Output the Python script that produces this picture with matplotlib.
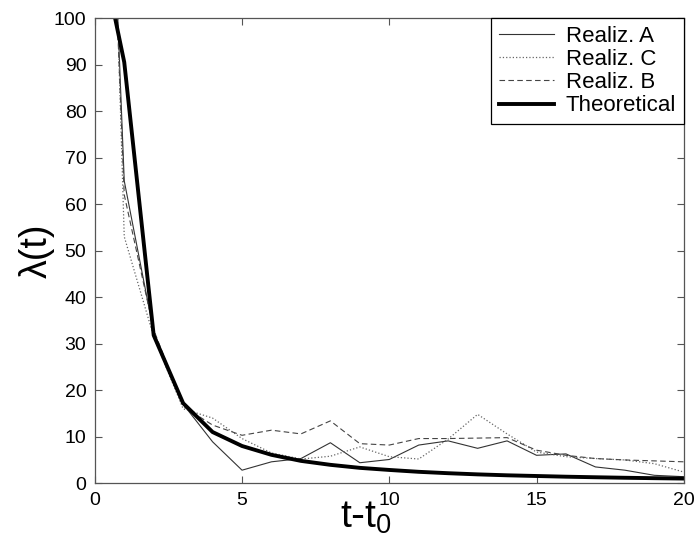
import matplotlib
matplotlib.use("Agg")
import matplotlib.pyplot as plt

plt.rcParams["font.family"] = ["Liberation Sans", "DejaVu Sans"]

# readings (t - t0 on x, lambda(t) on y)
t = [0, 1, 2, 3, 4, 5, 6, 7, 8, 9, 10, 11, 12, 13, 14, 15, 16, 17, 18, 19, 20]
realiz_a = [225, 65, 32.5, 17, 8.9, 2.8, 4.6, 5.3, 8.7, 4.4, 5.1, 8.2, 9.1, 7.5, 9.1, 6.0, 6.3, 3.5, 2.8, 1.7, 1.4]
realiz_c = [265, 53, 31.5, 16, 14, 9.6, 6.5, 5.2, 5.8, 7.8, 5.7, 5.2, 9.5, 14.8, 10.6, 6.7, 5.7, 5.3, 5.0, 4.2, 2.4]
realiz_b = [222, 62, 33, 16.5, 12.5, 10.3, 11.4, 10.6, 13.4, 8.5, 8.2, 9.6, 9.6, 9.7, 9.8, 7.1, 6.0, 5.3, 5.0, 4.8, 4.6]
theoretical = [121, 90.5, 31.8, 17.2, 11.0, 8.0, 6.1, 4.8, 3.95, 3.3, 2.85, 2.45, 2.15, 1.9, 1.7, 1.55, 1.4, 1.28, 1.17, 1.08, 1.0]

fig = plt.figure(figsize=(6.97, 5.46), dpi=100)
ax = fig.add_axes([0.136, 0.115, 0.845, 0.852])

ax.plot(t, realiz_a, "-", color="#333333", lw=0.8, label="Realiz. A")
ax.plot(t, realiz_c, ":", color="#666666", lw=0.9, label="Realiz. C")
ax.plot(t, realiz_b, "--", color="#444444", lw=0.8, dashes=(5, 3), label="Realiz. B")
ax.plot(t, theoretical, "-", color="black", lw=2.8, label="Theoretical")

ax.set_xlim(0, 20)
ax.set_ylim(0, 100)
ax.set_xticks([0, 5, 10, 15, 20])
ax.set_yticks(range(0, 101, 10))
ax.tick_params(direction="in", length=5, width=0.8, color="#555555",
               top=True, right=True, labelsize=14, pad=6)
for s in ax.spines.values():
    s.set_color("#555555")
    s.set_linewidth(0.9)

ax.set_xlabel(r"$\mathregular{t\text{-}t_0}$", fontsize=28)
ax.xaxis.set_label_coords(0.46, -0.035)
ax.set_ylabel("λ(t)", fontsize=27)
ax.yaxis.set_label_coords(-0.068, 0.5)

leg = ax.legend(loc="upper right", fontsize=16, borderaxespad=0, fancybox=False,
                handlelength=2.5, handletextpad=0.5, labelspacing=0.1,
                borderpad=0.35)
leg.get_frame().set_edgecolor("black")
leg.get_frame().set_linewidth(0.9)
leg.get_frame().set_alpha(1)

fig.savefig("out.png", dpi=100)
